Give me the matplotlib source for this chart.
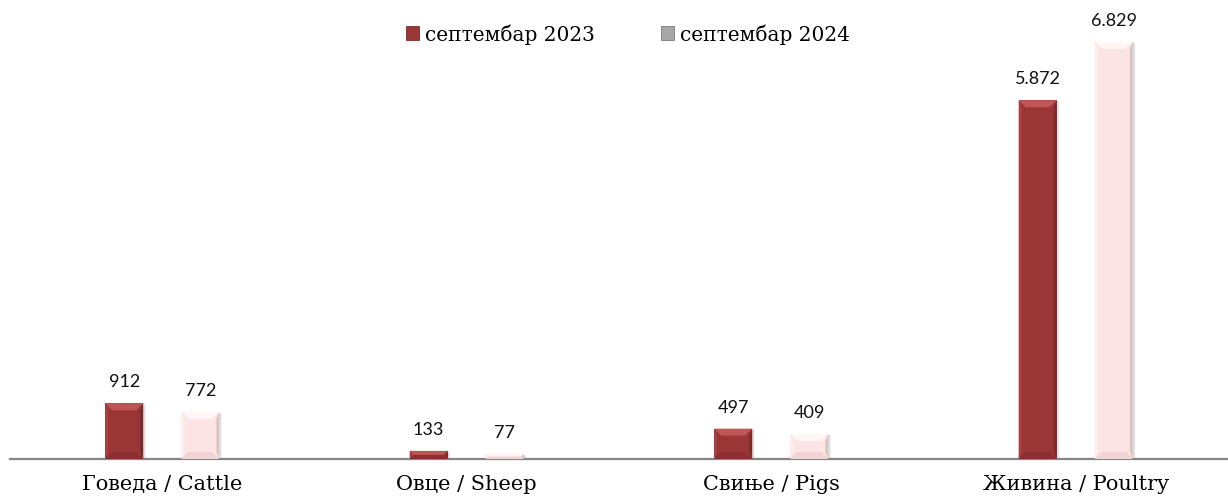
import numpy as np
import matplotlib.pyplot as plt
from matplotlib.patches import Polygon, Patch

categories = ["Говеда / Cattle", "Овце / Sheep", "Свиње / Pigs", "Живина / Poultry"]
series_names = ["септембар 2023", "септембар 2024"]
sep_2023 = [912, 133, 497, 5872]
sep_2024 = [772, 77, 409, 6829]
value_labels_2023 = ["912", "133", "497", "5.872"]
value_labels_2024 = ["772", "77", "409", "6.829"]

# face, top, left, right, bottom bevel colours
dark = ["#9B3636", "#BE5656", "#A84040", "#7E2A2A", "#8A3030"]
pink = ["#FDE4E4", "#FFF6F6", "#FFEEEE", "#D9C4C4", "#F0D4D4"]

fig = plt.figure(figsize=(12.28, 5.02), dpi=100)
ax = fig.add_axes([10/1228, 42/502, 1218/1228, 460/502])
ax.set_xlim(-0.5, 3.5)
ax.set_ylim(0, 460/0.0611)

x = np.arange(len(categories))
w = 0.125
off = 0.125
b1 = ax.bar(x - off, sep_2023, w, color=dark[0], zorder=2)
b2 = ax.bar(x + off, sep_2024, w, color=pink[0], zorder=2)

# bevel size in data units (about 7 px)
px_x = (3.5 + 0.5) / 1218
px_y = (460/0.0611) / 460
bev = 7


def bevel(rect, cols):
    x0, y0 = rect.get_x(), rect.get_y()
    x1, y1 = x0 + rect.get_width(), y0 + rect.get_height()
    hpx = rect.get_height() / px_y
    b = min(bev, hpx / 2, rect.get_width() / px_x / 2)
    bx, by = b * px_x, b * px_y
    sx = 3 * px_x  # thin side bevels
    ix0, ix1, iy0, iy1 = x0 + sx, x1 - sx, y0 + by, y1 - by
    polys = [
        ([(x0, y1), (x1, y1), (x1 - bx, iy1), (x0 + bx, iy1)], cols[1]),
        ([(x0, y0), (x0, y1), (ix0, iy1), (ix0, iy0)], cols[2]),
        ([(x1, y0), (x1, y1), (ix1, iy1), (ix1, iy0)], cols[3]),
        ([(x0, y0), (x1, y0), (x1 - bx, iy0), (x0 + bx, iy0)], cols[4]),
    ]
    for pts, c in polys:
        ax.add_patch(Polygon(pts, closed=True, facecolor=c, edgecolor="none", zorder=3))
    # soft shadow on the right
    ax.add_patch(Polygon([(x1, y0), (x1 + 2*px_x, y0), (x1 + 2*px_x, y1 - 2*px_y), (x1, y1)],
                         closed=True, facecolor="#DDDDDD", edgecolor="none", zorder=1))


for r in b1:
    bevel(r, dark)
for r in b2:
    bevel(r, pink)

for xi, v, lab in zip(x - off, sep_2023, value_labels_2023):
    ax.text(xi, v + 14*px_y, lab, ha="center", va="bottom", fontsize=13,
            family="Lato", color="#111111")
for xi, v, lab in zip(x + off, sep_2024, value_labels_2024):
    ax.text(xi, v + 14*px_y, lab, ha="center", va="bottom", fontsize=13,
            family="Lato", color="#111111")

for s in ["top", "right", "left"]:
    ax.spines[s].set_visible(False)
ax.spines["bottom"].set_color("#868686")
ax.spines["bottom"].set_linewidth(1.6)
ax.set_yticks([])
ax.set_xticks(x)
ax.set_xticklabels(categories, fontsize=15, family="DejaVu Serif")
ax.tick_params(axis="x", length=0, pad=11)

handles = [Patch(facecolor=dark[0], edgecolor=dark[3], linewidth=0.6),
           Patch(facecolor="#A8A8A8", edgecolor="#7A7A7A", linewidth=0.6)]
fig.legend(handles, series_names, loc="center", bbox_to_anchor=(628/1228, 1 - 35/502),
           ncol=2, frameon=False, prop={"family": "DejaVu Serif", "size": 14.5},
           handlelength=0.65, handleheight=0.65, handletextpad=0.3, columnspacing=3.3)

fig.savefig("out.png", dpi=100)
